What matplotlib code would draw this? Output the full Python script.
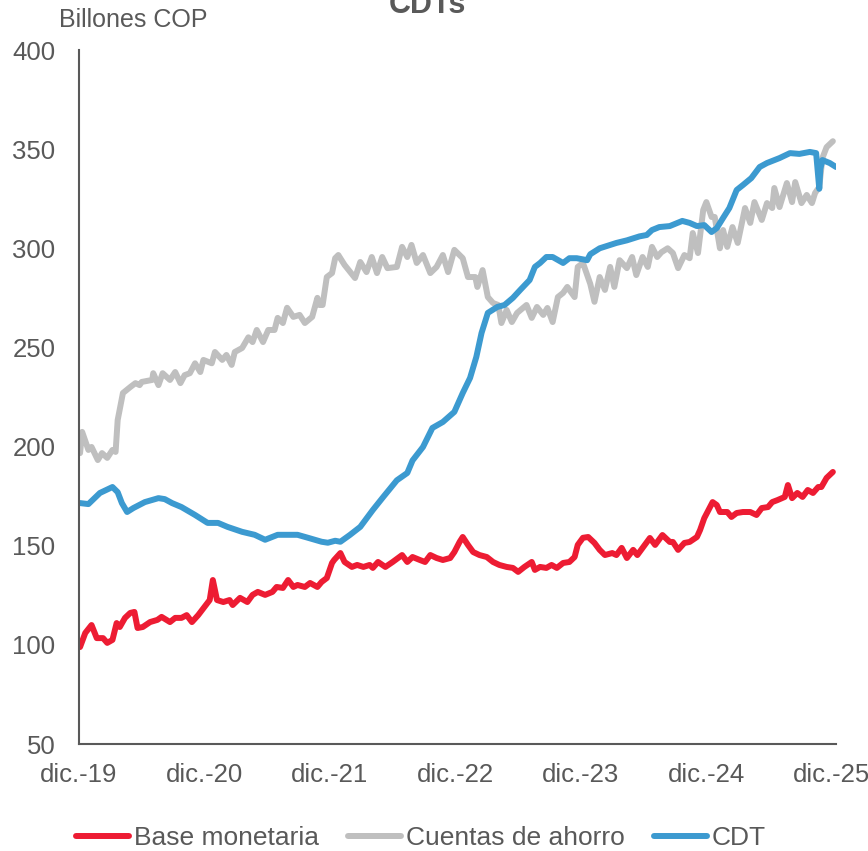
import matplotlib
matplotlib.use("Agg")
import matplotlib.pyplot as plt

# Datos (meses desde dic.-19, billones COP)
meses_cdt = [0.1, 0.9, 2.0, 3.2, 3.7, 4.1, 4.6, 5.2, 6.3, 7.6, 8.2, 8.9, 9.8, 11.1, 12.3,
             13.3, 14.2, 15.6, 16.8, 17.8, 19.0, 20.0, 20.9, 21.9, 23.2, 23.8, 24.5, 25.0,
             25.9, 26.9, 28.1, 29.1, 30.4, 31.4, 31.9, 32.9, 33.8, 34.8, 35.9, 36.7, 37.4,
             38.0, 38.5, 39.1, 40.0, 40.7, 41.5, 42.2, 43.1, 43.6, 44.1, 44.7, 45.3, 46.3,
             46.9, 47.6, 48.6, 48.9, 49.8, 51.4, 52.4, 53.6, 54.3, 54.8, 55.5, 56.5, 57.7,
             58.4, 59.1, 59.8, 60.5, 61.0, 61.6, 62.2, 62.9, 63.5, 64.3, 65.1, 65.8, 67.0,
             68.0, 68.9, 69.9, 70.5, 70.7, 70.8, 70.9, 71.1, 71.8, 72.4]
cdt = [171.5, 171, 176.6, 179.6, 177, 171.5, 167, 169, 172, 174, 173.5, 171.5, 169.5, 165.5, 161.5,
       161.5, 159.5, 157, 155.5, 153, 155.5, 155.5, 155.5, 154, 152, 151.5, 152.5, 152,
       155.4, 159.5, 168, 174.6, 183, 186.7, 193, 199.8, 209.4, 212.4, 217.5, 227, 234.6,
       245.2, 257.3, 267.4, 270.4, 271.4, 275, 279, 284, 290.6, 292.6, 295.6, 295.6, 292.6,
       295, 295, 294, 297, 300, 302.7, 304, 306, 306.7, 309.2, 310.7, 311.2, 313.8,
       312.8, 311.2, 311.7, 308.2, 310.2, 315.3, 320.3, 329.4, 331.9, 335.4, 341, 343, 345.5,
       348, 347.6, 348.6, 348, 336, 330, 340, 344.5, 343, 341]

meses_ahorro = [0.1, 0.3, 0.9, 1.2, 1.8, 2.2, 2.7, 3.2, 3.5, 3.7, 4.2, 4.9, 5.4, 5.8, 6.0,
                7.0, 7.1, 7.6, 8.0, 8.7, 9.2, 9.7, 10.1, 10.6, 11.1, 11.6, 11.9, 12.7, 13.0,
                13.7, 14.1, 14.6, 14.9, 15.6, 16.2, 16.6, 17.0, 17.6, 18.1, 18.7, 19.0, 19.5,
                19.9, 20.5, 21.1, 21.6, 22.3, 22.8, 23.0, 23.3, 23.7, 24.2, 24.5, 24.8, 25.4,
                26.4, 26.9, 27.5, 28.0, 28.5, 29.0, 29.5, 30.4, 30.9, 31.4, 31.8, 32.3, 32.9,
                33.6, 34.2, 34.8, 35.3, 35.9, 36.7, 37.2, 37.9, 38.1, 38.6, 39.1, 39.6, 40.1,
                40.4, 40.9, 41.4, 41.9, 42.8, 43.3, 43.8, 44.4, 44.8, 45.3, 45.8, 46.3, 46.7,
                47.4, 47.7, 48.2, 48.9, 49.3, 49.8, 50.3, 50.8, 51.2, 51.7, 52.4, 52.9, 53.3,
                53.9, 54.4, 54.8, 55.3, 55.7, 56.3, 56.8, 57.3, 57.9, 58.4, 58.7, 59.2, 59.7,
                60.0, 60.5, 60.8, 61.3, 61.6, 62.0, 62.5, 63.0, 63.7, 64.2, 64.6, 65.3, 65.8,
                66.3, 66.5, 67.0, 67.7, 68.2, 68.5, 69.1, 69.6, 70.1, 70.4, 70.8, 71.1, 71.5,
                72.1]
ahorro = [196.7, 207.4, 198.3, 199.8, 193.2, 196.7, 194.3, 198.3, 197.3, 213.4, 227, 230, 232, 231, 232.6,
          233.6, 237, 231, 237, 233.6, 237.6, 232, 236, 237, 242, 237.6, 243.7, 242, 247.7,
          243.7, 246.2, 241.2, 247.7, 249.7, 255.1, 252.7, 258.8, 252.7, 258.8, 258.8, 264.9, 262.3,
          270, 265.4, 266.4, 262.3, 265.4, 275, 271.4, 271.4, 285.5, 287.5, 295, 296.6, 291.6,
          285, 293.1, 288, 295.6, 287.5, 295.6, 290, 290.6, 300.7, 295.6, 301.7, 292.6, 296.6,
          287.5, 290.6, 296.6, 288, 299.2, 295, 285.5, 285.5, 280.5, 289, 275.4, 272.4, 271.4,
          262.3, 268.9, 262.8, 267.4, 271.4, 264.9, 270.4, 266.4, 269.9, 262.8, 275.4, 277.5, 280.5,
          275.4, 290.6, 292.6, 282, 273, 285.5, 279, 290.6, 280.5, 294, 290, 295.6, 286.5,
          295.6, 290.6, 300.7, 295.6, 298, 300, 297.6, 290, 296.6, 295, 307.7, 297.6, 319.3,
          323.3, 315.8, 315.8, 300, 309.2, 300.7, 310.7, 302.7, 320.3, 312.8, 323.3, 314.3, 322.8,
          320.3, 330.4, 320.8, 332.9, 323.3, 333.4, 322.8, 326.9, 322.8, 327.9, 330.9, 345.5, 351,
          354]

meses_base = [0.1, 0.6, 1.2, 1.7, 2.3, 2.7, 3.2, 3.6, 3.9, 4.4, 4.9, 5.3, 5.6, 6.1, 6.8,
              7.5, 7.9, 8.7, 9.2, 9.8, 10.3, 10.8, 11.4, 12.0, 12.5, 12.8, 13.2, 13.8, 14.4,
              14.7, 15.4, 16.1, 16.6, 17.1, 17.8, 18.5, 18.9, 19.5, 20.0, 20.5, 20.9, 21.6,
              22.1, 22.8, 23.2, 23.7, 24.2, 24.4, 25.0, 25.4, 26.1, 26.6, 27.2, 27.8, 28.1,
              28.6, 29.3, 30.0, 30.9, 31.4, 31.9, 32.6, 33.1, 33.6, 34.2, 34.8, 35.5, 35.9,
              36.4, 36.7, 37.2, 37.7, 38.3, 39.0, 39.6, 40.2, 40.9, 41.5, 42.0, 42.6, 43.3,
              43.6, 44.1, 44.7, 45.2, 45.7, 46.3, 46.9, 47.4, 47.7, 48.2, 48.7, 49.3, 49.8,
              50.3, 51.0, 51.4, 51.9, 52.4, 53.0, 53.4, 53.9, 54.6, 55.1, 55.8, 56.5, 56.8,
              57.3, 57.9, 58.4, 59.1, 59.4, 59.8, 60.3, 60.6, 61.0, 61.3, 62.0, 62.4, 62.9,
              63.5, 64.2, 64.8, 65.3, 65.9, 66.3, 66.8, 67.5, 67.8, 68.2, 68.7, 69.2, 69.7,
              70.2, 70.7, 71.0, 71.5, 72.1]
base = [98.9, 106, 110, 103.4, 103.4, 101, 102.5, 111, 109, 113.6, 116.1, 116.6, 108.5, 109, 111.5,
        112.6, 114.1, 111.5, 113.6, 113.6, 115, 111.5, 115, 119.1, 122.6, 132.7, 122.6, 121.6, 122.6,
        120.1, 123.7, 121.6, 125.2, 126.7, 125.2, 126.7, 129.2, 128.7, 132.7, 129.2, 130.2, 129.2,
        131.2, 129.2, 131.7, 133.7, 141.3, 142.8, 146.3, 141.8, 139.3, 140.3, 139.3, 140.3, 138.8,
        141.8, 139.3, 141.8, 145.3, 141.8, 144.3, 142.8, 141.8, 145.3, 143.8, 142.8, 143.8, 146.8,
        151.9, 154.4, 150.4, 146.8, 145.3, 144.3, 141.8, 140.3, 139.3, 138.8, 136.8, 139.3, 141.8,
        137.8, 139.3, 138.8, 140.3, 138.8, 141.3, 141.8, 144.3, 150.4, 154, 154.4, 151.4, 147.9,
        145.3, 146.3, 145.3, 148.9, 143.8, 147.9, 145.3, 148.9, 153.9, 150.4, 155.4, 151.9, 151.9,
        147.9, 151.4, 151.9, 154.4, 157.9, 163.9, 169, 172, 170.5, 167, 167, 164.5, 166.5,
        167, 167, 165.5, 169, 169.5, 172, 173, 174.6, 180.6, 174, 176.6, 174.6, 178.1,
        176.6, 179.6, 179.6, 184.2, 187.2]

etiquetas_x = ["dic.-19", "dic.-20", "dic.-21", "dic.-22", "dic.-23", "dic.-24", "dic.-25"]
posiciones_x = [0, 12, 24, 36, 48, 60, 72]

ROJO = "#ED1C33"
GRIS = "#BFBFBF"
AZUL = "#3C9AD0"
TEXTO = "#595959"

plt.rcParams["font.family"] = ["Liberation Sans", "DejaVu Sans"]

fig = plt.figure(figsize=(8.68, 8.51), dpi=100)
ax = fig.add_axes([79 / 868, 1 - 744 / 851, (836 - 79) / 868, (744 - 50) / 851])

estilo = dict(lw=4.3, solid_joinstyle="round", solid_capstyle="round")
ax.plot(meses_base, base, color=ROJO, label="Base monetaria", **estilo)
ax.plot(meses_ahorro, ahorro, color=GRIS, label="Cuentas de ahorro", **estilo)
ax.plot(meses_cdt, cdt, color=AZUL, label="CDT", **estilo)

ax.set_xlim(0, 72.4)
ax.set_ylim(50, 400)
ax.set_yticks(range(50, 401, 50))
ax.set_xticks(posiciones_x)
ax.set_xticklabels(etiquetas_x)

for lado in ["top", "right"]:
    ax.spines[lado].set_visible(False)
for lado in ["left", "bottom"]:
    ax.spines[lado].set_color(TEXTO)
    ax.spines[lado].set_linewidth(1.5)

ax.tick_params(axis="y", length=0, pad=17, labelsize=18.5, labelcolor=TEXTO)
ax.tick_params(axis="x", length=0, pad=14, labelsize=18.5, labelcolor=TEXTO)

fig.text(59 / 868, 1 - 27 / 851, "Billones COP", fontsize=18, color=TEXTO, va="baseline", ha="left")
fig.text(427 / 868, 1 - 13 / 851, "CDTs", fontsize=22, fontweight="bold", color=TEXTO,
         va="baseline", ha="center")

fig.legend(loc="center", bbox_to_anchor=(421 / 868, 1 - 838 / 851), ncol=3, frameon=False,
           fontsize=19, handlelength=2.0, handletextpad=0.2, columnspacing=1.1,
           labelcolor=TEXTO, borderaxespad=0)

fig.savefig("out.png", dpi=100)
